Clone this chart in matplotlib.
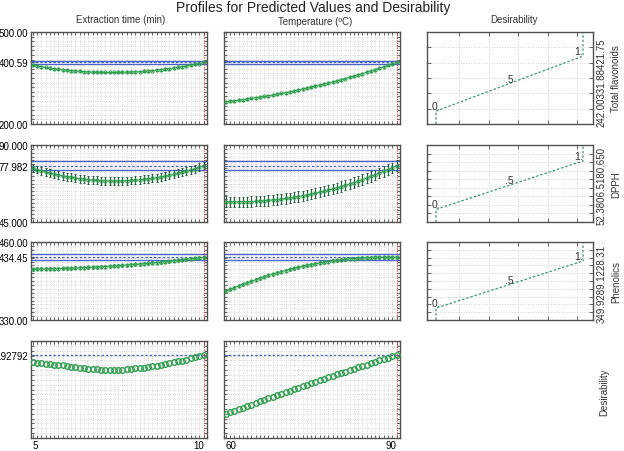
import numpy as np
import matplotlib
matplotlib.use("Agg")
import matplotlib.pyplot as plt

plt.rcParams['font.family'] = ['Liberation Sans', 'DejaVu Sans']

# ---------------- data ----------------
TIME = [5.0, 5.125, 5.25, 5.375, 5.5, 5.625, 5.75, 5.875, 6.0, 6.125, 6.25, 6.375, 6.5, 6.625,
        6.75, 6.875, 7.0, 7.125, 7.25, 7.375, 7.5, 7.625, 7.75, 7.875, 8.0, 8.125, 8.25, 8.375,
        8.5, 8.625, 8.75, 8.875, 9.0, 9.125, 9.25, 9.375, 9.5, 9.625, 9.75, 9.875, 10.0]
TEMP = [60.0, 60.75, 61.5, 62.25, 63.0, 63.75, 64.5, 65.25, 66.0, 66.75, 67.5, 68.25, 69.0, 69.75,
        70.5, 71.25, 72.0, 72.75, 73.5, 74.25, 75.0, 75.75, 76.5, 77.25, 78.0, 78.75, 79.5, 80.25,
        81.0, 81.75, 82.5, 83.25, 84.0, 84.75, 85.5, 86.25, 87.0, 87.75, 88.5, 89.25, 90.0]

TF_TIME = [391.3, 388.8, 386.5, 384.3, 382.3, 380.3, 378.6, 376.9, 375.4, 374.1, 372.9, 371.8,
           370.8, 370.0, 369.3, 368.8, 368.4, 368.1, 368.0, 368.0, 368.2, 368.5, 368.9, 369.5,
           370.2, 371.0, 372.0, 373.1, 374.3, 375.7, 377.3, 378.9, 380.7, 382.7, 384.7, 386.9,
           389.3, 391.8, 394.4, 397.2, 400.59]
TF_TEMP = [272.7, 274.3, 276.0, 277.7, 279.5, 281.4, 283.4, 285.5, 287.6, 289.9, 292.2, 294.6,
           297.1, 299.7, 302.3, 305.1, 307.9, 310.8, 313.8, 316.9, 320.0, 323.2, 326.6, 330.0,
           333.5, 337.0, 340.7, 344.4, 348.2, 352.2, 356.1, 360.2, 364.4, 368.6, 372.9, 377.3,
           381.8, 386.4, 391.0, 395.8, 400.59]
DPPH_TIME = [76.40, 75.65, 74.94, 74.27, 73.64, 73.05, 72.50, 71.99, 71.52, 71.09, 70.70, 70.35,
             70.04, 69.77, 69.54, 69.35, 69.21, 69.10, 69.03, 69.00, 69.01, 69.07, 69.16, 69.29,
             69.46, 69.68, 69.93, 70.22, 70.55, 70.93, 71.34, 71.80, 72.29, 72.82, 73.40, 74.01,
             74.67, 75.36, 76.10, 77.00, 77.982]
DPPH_TEMP = [56.91, 56.84, 56.81, 56.80, 56.83, 56.88, 56.97, 57.08, 57.23, 57.40, 57.61, 57.85,
             58.11, 58.41, 58.74, 59.09, 59.48, 59.90, 60.34, 60.82, 61.33, 61.87, 62.43, 63.03,
             63.66, 64.32, 65.01, 65.73, 66.47, 67.25, 68.06, 68.90, 69.77, 70.67, 71.60, 72.56,
             73.55, 74.57, 75.62, 76.75, 77.982]
PH_TIME = [415.00, 415.08, 415.17, 415.29, 415.42, 415.58, 415.76, 415.96, 416.19, 416.43, 416.69,
           416.98, 417.29, 417.61, 417.96, 418.33, 418.72, 419.14, 419.57, 420.02, 420.50, 421.00,
           421.51, 422.05, 422.61, 423.20, 423.80, 424.42, 425.07, 425.73, 426.42, 427.13, 427.86,
           428.61, 429.38, 430.17, 430.98, 431.82, 432.68, 433.55, 434.45]
PH_TEMP = [378.0, 381.0, 383.9, 386.7, 389.5, 392.1, 394.7, 397.2, 399.7, 402.0, 404.3, 406.4,
           408.5, 410.6, 412.5, 414.3, 416.1, 417.8, 419.4, 421.0, 422.4, 423.8, 425.1, 426.3,
           427.4, 428.4, 429.4, 430.3, 431.1, 431.8, 432.4, 433.0, 433.4, 433.8, 434.1, 434.4,
           434.5, 434.6, 434.6, 434.5, 434.45]
D_TIME = [0.836, 0.831, 0.826, 0.820, 0.815, 0.809, 0.803, 0.797, 0.790, 0.782, 0.775, 0.767,
          0.760, 0.755, 0.751, 0.748, 0.746, 0.745, 0.745, 0.745, 0.745, 0.747, 0.750, 0.755,
          0.760, 0.765, 0.771, 0.778, 0.785, 0.794, 0.804, 0.814, 0.825, 0.836, 0.847, 0.858,
          0.870, 0.884, 0.898, 0.913, 0.92792]
D_TEMP = [0.197, 0.217, 0.236, 0.256, 0.276, 0.295, 0.314, 0.334, 0.353, 0.372, 0.391, 0.410,
          0.429, 0.448, 0.467, 0.485, 0.504, 0.522, 0.541, 0.559, 0.578, 0.596, 0.614, 0.632,
          0.650, 0.668, 0.686, 0.704, 0.721, 0.739, 0.757, 0.774, 0.791, 0.809, 0.826, 0.843,
          0.860, 0.877, 0.894, 0.911, 0.92792]

# error-bar half widths per response (time, temp)
ERR_TIME = [3.0, 2.3, 2.5]
ERR_TEMP = [3.0, 3.0, 2.5]

RESPONSES = ["Total flavonoids", "DPPH", "Phenolics"]
Y_MIN = [200.0, 45.0, 330.0]
Y_MAX = [500.0, 90.0, 460.0]
Y_CUR = [400.59, 77.982, 434.45]
CI_LO = [396.5, 75.6, 429.5]
CI_HI = [404.0, 80.4, 439.5]
MIN_LABEL = ["200.00", "45.000", "330.00"]
MAX_LABEL = ["500.00", "90.000", "460.00"]
CUR_LABEL = ["400.59", "77.982", "434.45"]
DESIR_LOW = [242.00, 52.3806, 349.928]
DESIR_HIGH = [421.75, 80.650, 428.31]
DESIR_TEXT = ["242.00331.88421.75", "52.3806.5180.650", "349.9289.1228.31"]
D_CUR = 0.92792
D_CUR_LABEL = ".92792"
TIME_CUR = 10.0
TEMP_CUR = 90.0

# ---------------- figure ----------------
W, H = 624, 452
fig = plt.figure(figsize=(W / 100, H / 100), dpi=100)

def fr(x0, y0, x1, y1):
    return [x0 / W, 1 - y1 / H, (x1 - x0) / W, (y1 - y0) / H]

cols = [(31, 207), (224, 400), (427, 593)]
rows = [(33, 125), (146, 223), (243, 321), (342, 439)]

GREEN = '#2f9e4f'
DKGREEN = '#22603a'
BLUE = '#4a64c4'
GRIDC = '#cfcfcf'
FRAME = '#505050'
FS = 7

series_time = [TF_TIME, DPPH_TIME, PH_TIME, D_TIME]
series_temp = [TF_TEMP, DPPH_TEMP, PH_TEMP, D_TEMP]
y_steps = [50, 5, 13, 0.2]

def style_frame(ax):
    for s in ax.spines.values():
        s.set_color(FRAME)
        s.set_linewidth(1.0)

for r in range(4):
    if r < 3:
        ylo, yhi = Y_MIN[r], Y_MAX[r]
    else:
        ylo, yhi = -0.1, 1.1
    for c in range(2):
        ax = fig.add_axes(fr(cols[c][0], rows[r][0], cols[c][1], rows[r][1]))
        xs = TIME if c == 0 else TEMP
        ys = series_time[r] if c == 0 else series_temp[r]
        if c == 0:
            ax.set_xlim(4.95, 10.1)
            xminor = np.arange(5.0, 10.01, 0.125)
            cur_x = TIME_CUR
        else:
            ax.set_xlim(59.7, 90.6)
            xminor = np.arange(60.0, 90.01, 0.75)
            cur_x = TEMP_CUR
        ax.set_ylim(ylo, yhi)
        yminor = np.linspace(ylo, yhi, 21)
        ax.set_xticks(xminor, minor=True)
        ax.set_yticks(yminor, minor=True)
        ax.grid(which='minor', color=GRIDC, linestyle=':', linewidth=0.6)
        ax.tick_params(which='minor', direction='in', length=2, width=0.6, color=FRAME,
                       top=True, right=True, bottom=True, left=True)
        ax.tick_params(which='major', direction='in', length=3, width=0.6, color=FRAME,
                       top=True, right=True, labelsize=FS, pad=2)
        ax.set_axisbelow(True)
        style_frame(ax)

        if r < 3:
            ax.axhline(CI_LO[r], color=BLUE, lw=1.0)
            ax.axhline(CI_HI[r], color=BLUE, lw=1.0)
            ax.axhline(Y_CUR[r], color=BLUE, lw=0.9, linestyle=(0, (2, 1.5)))
            err = ERR_TIME[r] if c == 0 else ERR_TEMP[r]
            ecol = DKGREEN if r == 1 else GREEN
            ax.errorbar(xs, ys, yerr=err, fmt='o', ms=2.3, mfc='none', mec=GREEN, mew=0.7,
                        ecolor=ecol, elinewidth=0.8, capsize=0.8, capthick=0.6, zorder=3)
            ax.plot(xs, ys, color=GREEN, lw=0.7, zorder=3)
            if c == 0:
                ax.set_yticks([ylo, Y_CUR[r], yhi], [MIN_LABEL[r], CUR_LABEL[r], MAX_LABEL[r]])
            else:
                ax.set_yticks([ylo, Y_CUR[r], yhi], ['', '', ''])
        else:
            ax.axhline(D_CUR, color=BLUE, lw=0.9, linestyle=(0, (2, 1.5)))
            ax.plot(xs, ys, 'o', ms=4.0, mfc='none', mec=GREEN, mew=1.0, zorder=3)
            if c == 0:
                ax.set_yticks([D_CUR], [D_CUR_LABEL])
            else:
                ax.set_yticks([D_CUR], [''])
        ax.axvline(cur_x, color='#e03030', lw=0.8, linestyle=(0, (1, 1.2)))

        if r == 3:
            if c == 0:
                ax.set_xticks([5, 10], ['5', '10'])
            else:
                ax.set_xticks([60, 90], ['60', '90'])
            labs = ax.get_xticklabels()
            labs[0].set_ha('left')
            labs[1].set_ha('right')
            ax.tick_params(axis='x', which='major', pad=1.5, labelsize=FS)
        else:
            ax.set_xticks([])
            ax.set_xticks(xminor, minor=True)

    # desirability function panels
    if r < 3:
        ax = fig.add_axes(fr(cols[2][0], rows[r][0], cols[2][1], rows[r][1]))
        ax.set_xlim(-0.061, 1.068)
        ax.set_ylim(ylo, yhi)
        ax.set_xticks([0.16, 0.36, 0.56, 0.76, 0.96], [])
        ax.set_yticks(np.arange(ylo + y_steps[r], yhi - 1e-6, y_steps[r]), [])
        ax.grid(True, color=GRIDC, linestyle=':', linewidth=0.7)
        ax.tick_params(direction='in', length=3, width=0.6, color=FRAME,
                       top=True, right=True)
        style_frame(ax)
        lo, hi = DESIR_LOW[r], DESIR_HIGH[r]
        ax.plot([0, 0, 1, 1], [ylo, lo, hi, yhi], color='#3a9a6e', lw=0.9,
                linestyle=(0, (2, 1.5)), clip_on=True)
        ax.text(0.0, lo, '0.', ha='center', va='bottom', fontsize=7.5, color='#333333')
        ax.text(0.5, (lo + hi) / 2, '.5', ha='center', va='bottom', fontsize=7.5, color='#333333')
        ax.text(1.0, hi, '1.', ha='right', va='bottom', fontsize=7.5, color='#333333')
        # rotated labels
        cy = (rows[r][0] + rows[r][1]) / 2
        fig.text(602 / W, 1 - (rows[r][1] + 2) / H, DESIR_TEXT[r], rotation=90,
                 ha='center', va='bottom', fontsize=7, color='#333333')
        fig.text(616 / W, 1 - cy / H, RESPONSES[r], rotation=90, ha='center', va='center',
                 fontsize=7, color='#333333')

fig.text(604 / W, 1 - 392 / H, 'Desirability', rotation=90, ha='center', va='center',
         fontsize=7, color='#333333')

fig.text(313 / W, 1 - 1 / H, 'Profiles for Predicted Values and Desirability', ha='center',
         va='top', fontsize=10, color='#222222')
fig.text(121 / W, 1 - 20 / H, 'Extraction time (min)', ha='center', va='center', fontsize=7,
         color='#333333')
fig.text(315 / W, 1 - 22 / H, 'Temperature (ºC)', ha='center', va='center', fontsize=7,
         color='#333333')
fig.text(514 / W, 1 - 20 / H, 'Desirability', ha='center', va='center', fontsize=7,
         color='#333333')

fig.savefig('out.png', dpi=100)
